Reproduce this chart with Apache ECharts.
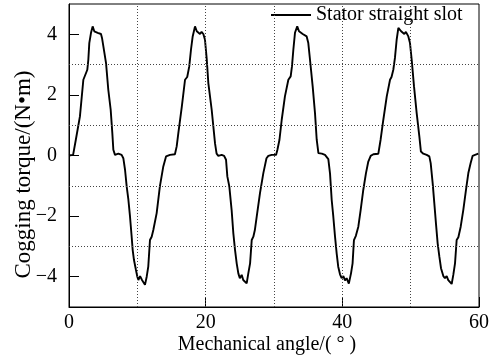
<!DOCTYPE html>
<html><head><meta charset="utf-8">
<script src="https://cdn.jsdelivr.net/npm/echarts@6/dist/echarts.min.js"></script>
<style>html,body{margin:0;padding:0;background:#fff}#c{width:494px;height:363px}</style>
</head><body><div id="c"></div>
<script>
// Mechanical angle (deg)
const angle = [
  0, 0.6, 1.0, 1.6, 2.1, 2.35, 2.68, 2.83, 2.97, 3.22, 3.46, 3.7, 3.95, 4.2, 4.44, 4.68, 4.83, 5.03, 5.42, 5.75, 6.1, 6.34, 6.49, 6.73, 7.22, 7.7, 7.95,
  8.2, 8.44, 8.69, 8.93, 9.17, 9.32, 9.51, 9.8, 10.0, 10.15, 10.4, 10.64, 10.88, 11.12, 11.37, 11.6, 11.85, 12.1, 12.34, 12.83, 13.3, 13.8, 14.2, 14.78, 15.5,
  15.76, 16.0, 16.5, 16.98, 17.3, 17.6, 17.85, 18.1, 18.44, 18.7, 18.93, 19.17, 19.4, 19.66, 19.9, 20.15, 20.39, 20.88, 21.37, 21.6, 21.85, 22.34, 22.7, 22.98,
  23.17, 23.46, 23.8, 24.05, 24.3, 24.54, 24.78, 25.0, 25.27, 25.5, 25.76, 26.0, 26.24, 26.5, 26.74, 26.98, 27.2, 27.47, 27.95, 28.44, 28.9, 29.17, 29.66, 30.3,
  30.5, 30.8, 31.13, 31.6, 32.1, 32.44, 32.63, 32.83, 33.07, 33.4, 33.66, 33.9, 34.2, 34.44, 34.78, 35.02, 35.27, 35.66, 36.0, 36.25, 36.5, 37.0, 37.46, 37.7, 37.95,
  38.2, 38.44, 38.68, 38.93, 39.17, 39.4, 39.66, 39.9, 40.15, 40.39, 40.63, 40.95, 41.27, 41.5, 41.7, 41.98, 42.34, 42.68, 43.07, 43.46, 43.8, 44.15, 44.54, 45.27,
  45.6, 46.0, 46.5, 46.98, 47.2, 47.46, 47.7, 47.95, 48.2, 48.34, 48.6, 48.83, 49.07, 49.3, 49.66, 49.9, 50.15, 50.49, 50.88, 51.27, 51.5, 51.85, 52.34, 52.73,
  52.93, 53.22, 53.46, 53.7, 53.95, 54.2, 54.44, 54.78, 55.02, 55.27, 55.5, 55.76, 56.0, 56.24, 56.49, 56.73, 56.98, 57.32, 57.7, 58.1, 58.44, 58.78, 59.07, 59.42, 59.9, 60
];
// Cogging torque (N·m)
const torque = [
  0, 0.02, 0.52, 1.29, 2.5, 2.56, 2.83, 3.16, 3.71, 4.05, 4.26, 4.1, 4.13, 4.05, 4.08, 4.01, 3.88, 3.6, 3.05, 2.17, 1.51, 0.74, 0.19, 0.02, 0.06, 0.02, -0.09,
  -0.47, -1.02, -1.46, -2.02, -2.68, -3.12, -3.45, -3.78, -4.0, -4.11, -3.98, -4.09, -4.05, -4.27, -4.0, -3.67, -2.79, -2.68, -2.46, -1.9, -1.02, -0.36, -0.03, 0.02, 0.04,
  0.3, 0.74, 1.6, 2.5, 2.59, 2.94, 3.49, 3.93, 4.26, 4.1, 4.15, 4.01, 4.08, 4.01, 3.82, 3.2, 2.39, 1.51, 0.4, 0.06, -0.01, 0.02, -0.01, -0.14,
  -0.69, -1.02, -1.8, -2.57, -3.12, -3.56, -3.89, -4.05, -3.94, -4.11, -4.05, -4.22, -3.89, -3.56, -2.79, -2.68, -2.46, -2.02, -1.24, -0.58, -0.09, -0.01, 0.02, 0.02,
  0.19, 0.52, 1.18, 1.95, 2.5, 2.61, 2.94, 3.49, 4.05, 4.26, 4.1, 4.15, 4.01, 4.07, 3.93, 3.71, 3.16, 2.28, 1.4, 0.52, 0.08, 0.06, 0.02, -0.03, -0.12,
  -0.6, -1.46, -2.02, -2.68, -3.23, -3.67, -3.92, -4.05, -3.98, -4.12, -4.05, -4.23, -3.89, -3.56, -2.79, -2.65, -2.35, -1.8, -1.13, -0.58, -0.2, -0.01, 0.04, 0.06,
  0.52, 1.18, 1.95, 2.5, 2.59, 2.83, 3.22, 3.82, 4.21, 4.26, 4.1, 4.15, 4.01, 4.08, 3.93, 3.71, 3.16, 2.28, 1.4, 0.63, 0.13, 0.06, 0.02, -0.03,
  -0.25, -0.91, -1.57, -2.24, -2.9, -3.34, -3.72, -3.98, -4.05, -3.98, -4.11, -4.05, -4.24, -3.94, -3.56, -2.79, -2.7, -2.35, -1.8, -1.13, -0.58, -0.25, -0.01, 0.02, 0.06, 0.06
];
const xTicks = [0, 20, 40, 60];
const yTicks = [-4, -2, 0, 2, 4];
const xGridValues = [10, 20, 30, 40, 50];
const yGridValues = [-3, -1, 1, 3];
const seriesName = 'Stator straight slot';
const xName = 'Mechanical angle/( ° )';
const yName = 'Cogging torque/(N•m)';

const FONT = 'Liberation Serif';
const chart = echarts.init(document.getElementById('c'), null, {renderer: 'canvas'});
const data = angle.map((a, i) => [a, torque[i]]);
chart.setOption({
  animation: false,
  backgroundColor: '#fff',
  grid: {left: 69, top: 4, width: 410, height: 303, outerBoundsMode: 'none', containLabel: false,
    show: true, borderColor: '#000', borderWidth: 1, backgroundColor: 'transparent'},
  legend: {
    data: [{name: seriesName, icon: 'rect'}],
    left: 271, top: 5, padding: 0, itemWidth: 40, itemHeight: 2,
    textStyle: {fontFamily: FONT, fontSize: 20, color: '#000'}
  },
  xAxis: {
    type: 'value', min: 0, max: 60, interval: 20,
    name: xName, nameLocation: 'middle', nameGap: 28, nameMoveOverlap: false,
    nameTextStyle: {fontFamily: FONT, fontSize: 20, color: '#000', padding: [0, 14, 0, 0]},
    axisLine: {show: true, onZero: false, lineStyle: {color: '#000', width: 1}},
    axisTick: {show: true, inside: true, length: 10, customValues: xTicks, lineStyle: {color: '#000'}},
    axisLabel: {show: true, customValues: xTicks, margin: 6, fontFamily: FONT, fontSize: 20, color: '#000'},
    splitLine: {show: false}
  },
  yAxis: {
    type: 'value', min: -5, max: 5, interval: 1,
    name: yName, nameLocation: 'middle', nameGap: 34, nameMoveOverlap: false,
    nameTextStyle: {fontFamily: FONT, fontSize: 23, color: '#000', padding: [0, 38, 0, 0]},
    axisLine: {show: true, onZero: false, lineStyle: {color: '#000', width: 1}},
    axisTick: {show: true, inside: true, length: 10, customValues: yTicks, lineStyle: {color: '#000'}},
    axisLabel: {show: true, customValues: yTicks, margin: 12, fontFamily: FONT, fontSize: 20, color: '#000',
      formatter: v => String(v).replace('-', '\u2212')},
    splitLine: {show: false}
  },
  series: [{
    name: seriesName, type: 'line', data: data, symbol: 'none', showSymbol: false,
    lineStyle: {color: '#000', width: 1.9}, itemStyle: {color: '#000'},
    markLine: {
      silent: true, symbol: 'none', label: {show: false},
      lineStyle: {type: [1, 2], color: '#444', width: 1},
      data: xGridValues.map(v => ({xAxis: v})).concat(yGridValues.map(v => ({yAxis: v})))
    }
  }]
});
</script></body></html>
